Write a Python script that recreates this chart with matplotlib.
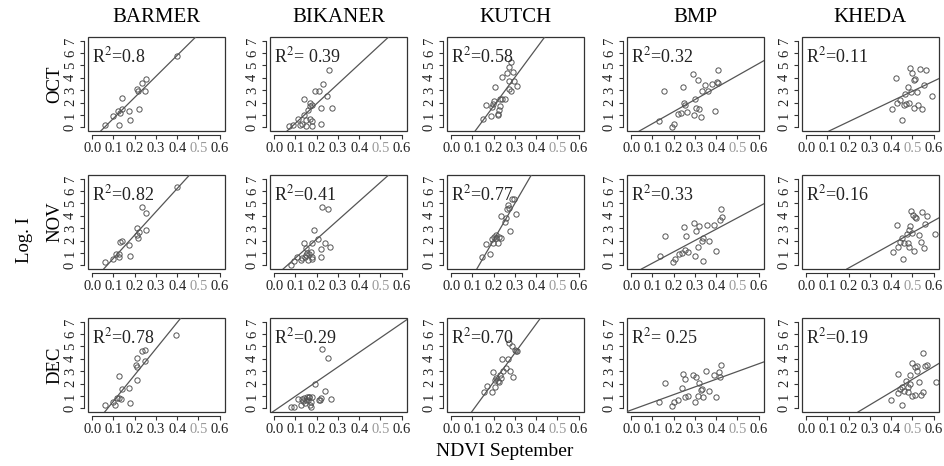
import matplotlib
matplotlib.use("Agg")
import matplotlib.pyplot as plt

plt.rcParams['font.family'] = ['Liberation Serif', 'DejaVu Serif']
plt.rcParams['mathtext.fontset'] = 'stix'

districts = ["BARMER", "BIKANER", "KUTCH", "BMP", "KHEDA"]
months = ["OCT", "NOV", "DEC"]
x_ticks = [0.0, 0.1, 0.2, 0.3, 0.4, 0.5, 0.6]
y_ticks = [0, 1, 2, 3, 4, 5, 6, 7]

# ---- OCT ----
barmer_oct_x = [0.06, 0.10, 0.12, 0.13, 0.14, 0.125, 0.14, 0.175, 0.18, 0.22, 0.21, 0.215, 0.25, 0.235, 0.255, 0.40]
barmer_oct_y = [0.2, 0.9, 1.35, 1.15, 1.45, 0.2, 2.4, 1.3, 0.6, 1.45, 3.1, 2.9, 2.9, 3.6, 3.9, 5.8]
bikaner_oct_x = [0.07, 0.09, 0.11, 0.12, 0.13, 0.14, 0.14, 0.15, 0.15, 0.16, 0.17, 0.17, 0.17, 0.18, 0.18, 0.18,
                 0.19, 0.21, 0.22, 0.22, 0.23, 0.25, 0.26, 0.27]
bikaner_oct_y = [0.1, 0.2, 0.7, 0.2, 0.3, 1.0, 2.3, 0.1, 0.6, 1.4, 1.7, 2.0, 0.7, 0.5, 0.1, 1.8,
                 2.9, 2.9, 1.6, 0.3, 3.5, 2.5, 4.6, 1.6]
kutch_oct_x = [0.15, 0.165, 0.185, 0.19, 0.197, 0.203, 0.208, 0.218, 0.22, 0.225, 0.23, 0.23, 0.238, 0.237,
               0.255, 0.262, 0.271, 0.283, 0.271, 0.27, 0.28, 0.289, 0.297, 0.308]
kutch_oct_y = [0.64, 1.84, 0.88, 1.68, 1.9, 2.15, 3.27, 1.09, 1.0, 1.36, 1.76, 2.26, 2.26, 4.07,
               2.26, 4.4, 4.86, 5.27, 3.75, 3.1, 2.95, 4.47, 3.75, 3.35]
bmp_oct_x = [0.133, 0.156, 0.19, 0.203, 0.218, 0.234, 0.244, 0.249, 0.253, 0.261, 0.289, 0.296, 0.301,
             0.307, 0.313, 0.319, 0.333, 0.33, 0.345, 0.359, 0.378, 0.393, 0.407, 0.404, 0.41]
bmp_oct_y = [0.49, 2.93, 0.05, 0.27, 1.08, 1.19, 3.25, 1.98, 1.79, 1.27, 4.28, 1.0, 2.3,
             1.57, 3.85, 1.46, 2.93, 0.87, 3.44, 2.93, 3.52, 1.3, 4.66, 3.66, 3.58]
kheda_oct_x = [0.402, 0.422, 0.429, 0.44, 0.452, 0.46, 0.467, 0.47, 0.48, 0.483, 0.487, 0.495, 0.498,
               0.508, 0.513, 0.505, 0.52, 0.528, 0.536, 0.543, 0.554, 0.562, 0.59]
kheda_oct_y = [1.51, 3.95, 1.99, 2.18, 0.58, 1.78, 2.73, 1.91, 3.24, 1.96, 4.83, 2.84, 4.35,
               3.85, 3.9, 1.56, 2.89, 1.83, 4.69, 1.46, 3.45, 4.64, 2.57]

# ---- NOV ----
barmer_nov_x = [0.062, 0.10, 0.112, 0.125, 0.128, 0.131, 0.138, 0.174, 0.178, 0.209, 0.212, 0.217, 0.22,
                0.235, 0.254, 0.254, 0.40]
barmer_nov_y = [0.27, 0.54, 0.89, 0.68, 0.89, 1.9, 1.95, 1.63, 0.73, 2.44, 3.04, 2.17, 2.66,
                4.74, 4.25, 2.85, 6.31]
bikaner_nov_x = [0.078, 0.093, 0.109, 0.125, 0.132, 0.14, 0.145, 0.148, 0.151, 0.156, 0.159, 0.164, 0.171,
                 0.176, 0.179, 0.176, 0.187, 0.207, 0.218, 0.221, 0.226, 0.238, 0.254, 0.262]
bikaner_nov_y = [0.05, 0.32, 0.65, 0.46, 0.59, 1.81, 0.65, 0.86, 1.4, 1.0, 0.46, 0.92, 1.08,
                 0.54, 1.81, 0.67, 2.88, 2.16, 1.35, 0.67, 4.69, 1.83, 4.58, 1.48]
kutch_nov_x = [0.147, 0.162, 0.181, 0.19, 0.196, 0.201, 0.209, 0.209, 0.221, 0.224, 0.232, 0.233, 0.252,
               0.258, 0.264, 0.267, 0.274, 0.278, 0.286, 0.294, 0.306]
kutch_nov_y = [0.67, 1.75, 0.89, 2.1, 1.78, 2.32, 2.18, 2.43, 1.78, 2.32, 2.24, 3.99, 3.5,
               3.85, 4.58, 4.85, 4.66, 2.75, 5.39, 5.34, 4.12]
bmp_nov_x = [0.137, 0.16, 0.196, 0.208, 0.223, 0.239, 0.249, 0.254, 0.258, 0.269, 0.296, 0.302, 0.307,
             0.315, 0.319, 0.334, 0.34, 0.34, 0.356, 0.368, 0.39, 0.401, 0.416, 0.421, 0.426]
bmp_nov_y = [0.73, 2.37, 0.27, 0.49, 0.94, 1.02, 3.07, 1.21, 2.37, 1.08, 3.42, 0.75, 2.78,
             1.48, 3.18, 1.94, 2.21, 0.35, 3.29, 1.94, 3.23, 1.16, 3.64, 4.58, 3.91]
kheda_nov_x = [0.408, 0.428, 0.431, 0.443, 0.449, 0.454, 0.462, 0.472, 0.477, 0.485, 0.485, 0.488, 0.492,
               0.497, 0.503, 0.505, 0.512, 0.518, 0.531, 0.538, 0.543, 0.554, 0.558, 0.569, 0.605]
kheda_nov_y = [1.06, 3.24, 1.51, 1.91, 2.18, 0.5, 1.78, 2.57, 1.78, 1.51, 2.89, 3.16, 4.38,
               2.63, 4.03, 1.19, 3.9, 3.85, 2.44, 1.91, 4.3, 1.38, 3.37, 3.95, 2.57]

# ---- DEC ----
barmer_dec_x = [0.06, 0.098, 0.109, 0.118, 0.128, 0.136, 0.128, 0.139, 0.171, 0.177, 0.204, 0.211, 0.213,
                0.213, 0.234, 0.249, 0.249, 0.393]
barmer_dec_y = [0.27, 0.54, 0.27, 0.81, 0.87, 0.76, 2.63, 1.54, 1.68, 0.41, 3.52, 3.31, 4.07,
                2.3, 4.66, 4.74, 3.79, 5.91]
bikaner_dec_x = [0.08, 0.095, 0.11, 0.125, 0.13, 0.135, 0.14, 0.145, 0.148, 0.152, 0.158, 0.162, 0.165,
                 0.17, 0.175, 0.175, 0.178, 0.19, 0.21, 0.22, 0.215, 0.225, 0.24, 0.255, 0.265]
bikaner_dec_y = [0.14, 0.14, 0.74, 0.27, 0.74, 0.6, 0.82, 0.41, 0.68, 0.95, 0.68, 0.9, 0.95,
                 0.27, 0.08, 0.54, 0.95, 1.99, 0.68, 0.8, 0.63, 4.8, 1.4, 4.1, 0.75]
kutch_dec_x = [0.155, 0.17, 0.19, 0.197, 0.204, 0.204, 0.213, 0.219, 0.223, 0.231, 0.235, 0.24, 0.246,
               0.258, 0.269, 0.274, 0.276, 0.284, 0.292, 0.299, 0.307, 0.311]
kutch_dec_y = [1.34, 1.79, 1.34, 2.94, 2.25, 1.71, 2.46, 2.19, 2.14, 2.73, 2.41, 4.01, 3.0,
               3.26, 4.01, 5.27, 3.0, 5.0, 2.51, 4.73, 4.6, 4.65]
bmp_dec_x = [0.131, 0.158, 0.192, 0.203, 0.22, 0.238, 0.246, 0.252, 0.254, 0.265, 0.292, 0.3, 0.305,
             0.312, 0.32, 0.328, 0.338, 0.335, 0.351, 0.366, 0.389, 0.4, 0.415, 0.42, 0.423]
bmp_dec_y = [0.49, 2.06, 0.22, 0.54, 0.68, 1.65, 2.79, 2.38, 0.95, 1.03, 2.66, 0.54, 2.57,
             1.03, 2.03, 1.49, 0.89, 1.57, 3.0, 1.38, 2.66, 0.95, 2.95, 2.57, 3.52]
kheda_dec_x = [0.40, 0.43, 0.43, 0.44, 0.45, 0.45, 0.46, 0.47, 0.48, 0.48, 0.49, 0.49, 0.50,
               0.50, 0.51, 0.51, 0.52, 0.52, 0.53, 0.54, 0.55, 0.55, 0.56, 0.57, 0.61]
kheda_dec_y = [0.7, 2.8, 1.2, 1.6, 1.7, 0.3, 1.4, 2.2, 1.7, 1.3, 2.7, 2.0, 3.7,
               1.0, 3.3, 1.1, 3.4, 3.0, 2.1, 1.1, 4.5, 1.3, 3.4, 3.5, 2.1]

# fitted lines (slope, intercept), rows = months
slopes = [[17.0, 15.9, 23.2, 9.7, 8.19],
          [18.8, 15.3, 29.6, 9.15, 9.53],
          [21.2, 11.8, 23.4, 6.23, 10.3]]
intercepts = [[-0.98, -1.26, -2.91, -0.67, -1.18],
              [-1.31, -0.94, -3.86, -0.74, -2.12],
              [-1.54, -0.20, -2.54, -0.14, -2.81]]
r2_labels = [["=0.8", "= 0.39", "=0.58", "=0.32", "=0.11"],
             ["=0.82", "=0.41", "=0.77", "=0.33", "=0.16"],
             ["=0.78", "=0.29", "=0.70", "= 0.25", "=0.19"]]

xs = [[barmer_oct_x, bikaner_oct_x, kutch_oct_x, bmp_oct_x, kheda_oct_x],
      [barmer_nov_x, bikaner_nov_x, kutch_nov_x, bmp_nov_x, kheda_nov_x],
      [barmer_dec_x, bikaner_dec_x, kutch_dec_x, bmp_dec_x, kheda_dec_x]]
ys = [[barmer_oct_y, bikaner_oct_y, kutch_oct_y, bmp_oct_y, kheda_oct_y],
      [barmer_nov_y, bikaner_nov_y, kutch_nov_y, bmp_nov_y, kheda_nov_y],
      [barmer_dec_y, bikaner_dec_y, kutch_dec_y, bmp_dec_y, kheda_dec_y]]

W, H = 945, 466
fig = plt.figure(figsize=(W / 100, H / 100), dpi=100)

col_left = [88, 270, 447, 627, 802]
row_top = [37, 175, 318]
aw, ah = 137, 94
ink = '#333333'

for r in range(3):
    for c in range(5):
        l, t = col_left[c], row_top[r]
        ax = fig.add_axes([l / W, 1 - (t + ah) / H, aw / W, ah / H])
        ax.set_xlim(-0.02, 0.625)
        ax.set_ylim(-0.3, 7.3)
        ax.plot(xs[r][c], ys[r][c], 'o', ms=3.8, mfc='none', mec='#555555', mew=0.7)
        ax.axline((0, intercepts[r][c]), slope=slopes[r][c], color='#555555', lw=0.9)
        ax.text(0.0, 5.7, 'R$^{2}$' + r2_labels[r][c], fontsize=13, color='#222222', va='center')

        # R style: box plus detached axes
        ax.patch.set_edgecolor(ink)
        ax.patch.set_linewidth(0.9)
        for s in ['top', 'right']:
            ax.spines[s].set_visible(False)
        ax.spines['left'].set_position(('outward', 3))
        ax.spines['bottom'].set_position(('outward', 3))
        ax.spines['left'].set_bounds(0, 7)
        ax.spines['bottom'].set_bounds(0, 0.6)
        for s in ['left', 'bottom']:
            ax.spines[s].set_color(ink)
            ax.spines[s].set_linewidth(0.8)
        ax.set_xticks(x_ticks)
        ax.set_xticklabels(['%.1f' % v for v in x_ticks])
        ax.set_yticks(y_ticks)
        ax.tick_params(axis='both', direction='out', length=3, width=0.8, color=ink,
                       labelsize=10.5, labelcolor='#222222', pad=2)
        ax.tick_params(axis='y', labelrotation=90)
        for lab in ax.get_yticklabels():
            lab.set_va('center')
        ax.get_xticklabels()[5].set_color('#999999')

        if r == 0:
            fig.text((l + aw / 2) / W, 1 - 17 / H, districts[c], ha='center', va='center', fontsize=15)
    fig.text(55 / W, 1 - (row_top[r] + ah / 2) / H, months[r], rotation=90,
             ha='center', va='center', fontsize=13.5)

fig.text(25 / W, 1 - 240 / H, 'Log. I', rotation=90, ha='center', va='center', fontsize=13.5)
fig.text(505 / W, 1 - 452 / H, 'NDVI September', ha='center', va='center', fontsize=14)

fig.savefig('out.png', dpi=100)
